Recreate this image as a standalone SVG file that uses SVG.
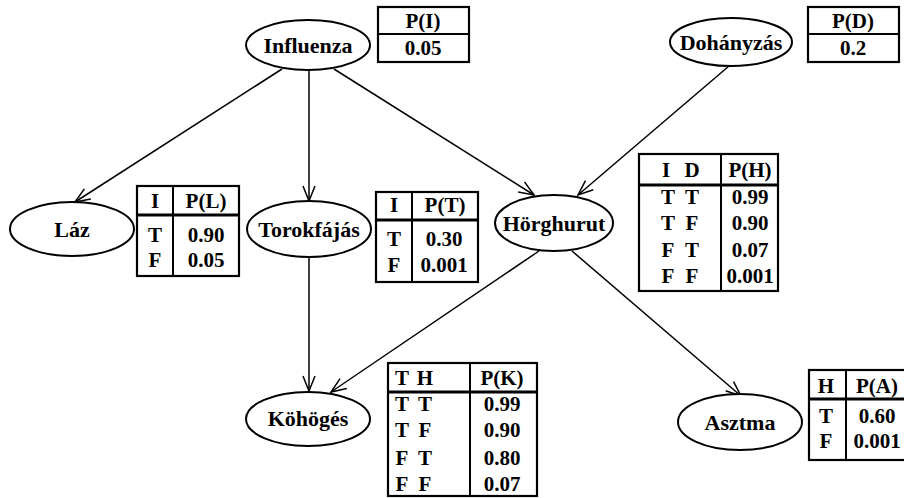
<svg xmlns="http://www.w3.org/2000/svg" width="904" height="498" viewBox="0 0 904 498">
<defs>
<style>
.node ellipse{fill:#fff;stroke:#000;stroke-width:2}
.lbl{font-family:'Liberation Serif','DejaVu Serif',serif;font-weight:700;font-size:22px;text-anchor:middle;fill:#000}
.t{font-family:'Liberation Serif','DejaVu Serif',serif;font-weight:700;font-size:21px;text-anchor:middle;fill:#000}
.box{fill:#fff;stroke:#000;stroke-width:2.2}
.div{stroke:#000;stroke-width:2}
.hd{stroke:#000;stroke-width:3}
.edge{stroke:#000;stroke-width:1.5;fill:none;marker-end:url(#arr)}
</style>
<marker id="arr" viewBox="0 0 17 14" refX="16" refY="7" markerWidth="17" markerHeight="14" markerUnits="userSpaceOnUse" orient="auto">
<path d="M1,1 L16,7 L1,13" fill="none" stroke="#000" stroke-width="1.5"/>
</marker>
</defs>
<rect width="904" height="498" fill="#fff"/>
<g id="connectors">
<line class="edge" x1="282" y1="69" x2="75" y2="202"/>
<line class="edge" x1="309" y1="71" x2="309" y2="201"/>
<line class="edge" x1="334" y1="69" x2="534" y2="195"/>
<line class="edge" x1="729" y1="66" x2="578" y2="195"/>
<line class="edge" x1="539" y1="251" x2="331" y2="392"/>
<line class="edge" x1="572" y1="251" x2="741" y2="396"/>
<line class="edge" x1="309" y1="257" x2="309" y2="391"/>
</g>
<g id="influenza" class="node">
<ellipse cx="308" cy="45" rx="62" ry="25"/>
<text class="lbl" x="308" y="53">Influenza</text>
</g>
<g id="dohanyzas" class="node">
<ellipse cx="731" cy="42" rx="61" ry="24"/>
<text class="lbl" x="731" y="50">Dohányzás</text>
</g>
<g id="laz" class="node">
<ellipse cx="72" cy="229" rx="62" ry="27"/>
<text class="lbl" x="72" y="237">Láz</text>
</g>
<g id="torokfajas" class="node">
<ellipse cx="309" cy="229" rx="62" ry="28"/>
<text class="lbl" x="309" y="237">Torokfájás</text>
</g>
<g id="horghurut" class="node">
<ellipse cx="554" cy="223" rx="59" ry="28"/>
<text class="lbl" x="554" y="231">Hörghurut</text>
</g>
<g id="kohoges" class="node">
<ellipse cx="308" cy="419" rx="62" ry="27"/>
<text class="lbl" x="308" y="426">Köhögés</text>
</g>
<g id="asztma" class="node">
<ellipse cx="740" cy="422" rx="62" ry="28"/>
<text class="lbl" x="740" y="430">Asztma</text>
</g>
<g id="cpt-i">
<rect class="box" x="378" y="7" width="91" height="55"/>
<line class="div" x1="378" y1="34" x2="469" y2="34"/>
<text class="t" x="423" y="28">P(I)</text>
<text class="t" x="423" y="55">0.05</text>
</g>
<g id="cpt-d">
<rect class="box" x="808" y="7" width="91" height="55"/>
<line class="div" x1="808" y1="34" x2="899" y2="34"/>
<text class="t" x="853" y="28">P(D)</text>
<text class="t" x="853" y="55">0.2</text>
</g>
<g id="cpt-l">
<rect class="box" x="137" y="186" width="102" height="90"/>
<line class="div" x1="173" y1="186" x2="173" y2="276"/>
<line class="hd" x1="137" y1="215" x2="239" y2="215"/>
<text class="t" x="155" y="208">I</text>
<text class="t" x="206" y="208">P(L)</text>
<text class="t" x="155" y="242">T</text>
<text class="t" x="206" y="242">0.90</text>
<text class="t" x="155" y="267">F</text>
<text class="t" x="206" y="267">0.05</text>
</g>
<g id="cpt-t">
<rect class="box" x="376" y="192" width="102" height="90"/>
<line class="div" x1="412" y1="192" x2="412" y2="282"/>
<line class="hd" x1="376" y1="220" x2="478" y2="220"/>
<text class="t" x="394" y="212">I</text>
<text class="t" x="445" y="212">P(T)</text>
<text class="t" x="394" y="246">T</text>
<text class="t" x="444" y="246">0.30</text>
<text class="t" x="394" y="272">F</text>
<text class="t" x="444" y="272">0.001</text>
</g>
<g id="cpt-h">
<rect class="box" x="639" y="154" width="139" height="137"/>
<line class="div" x1="721" y1="154" x2="721" y2="291"/>
<line class="hd" x1="639" y1="185" x2="778" y2="185"/>
<text class="t" x="666" y="177">I</text>
<text class="t" x="692" y="177">D</text>
<text class="t" x="750" y="177">P(H)</text>
<text class="t" x="668" y="204">T</text>
<text class="t" x="692" y="204">T</text>
<text class="t" x="750" y="204">0.99</text>
<text class="t" x="668" y="230">T</text>
<text class="t" x="692" y="230">F</text>
<text class="t" x="750" y="230">0.90</text>
<text class="t" x="668" y="257">F</text>
<text class="t" x="692" y="257">T</text>
<text class="t" x="750" y="257">0.07</text>
<text class="t" x="668" y="283">F</text>
<text class="t" x="692" y="283">F</text>
<text class="t" x="750" y="283">0.001</text>
</g>
<g id="cpt-k">
<rect class="box" x="388" y="363" width="149" height="133"/>
<line class="div" x1="470" y1="363" x2="470" y2="496"/>
<line class="hd" x1="388" y1="392" x2="537" y2="392"/>
<text class="t" x="402" y="385">T</text>
<text class="t" x="425" y="385">H</text>
<text class="t" x="502" y="385">P(K)</text>
<text class="t" x="402" y="411">T</text>
<text class="t" x="425" y="411">T</text>
<text class="t" x="502" y="411">0.99</text>
<text class="t" x="402" y="437">T</text>
<text class="t" x="425" y="437">F</text>
<text class="t" x="502" y="437">0.90</text>
<text class="t" x="402" y="465">F</text>
<text class="t" x="425" y="465">T</text>
<text class="t" x="502" y="465">0.80</text>
<text class="t" x="402" y="491">F</text>
<text class="t" x="425" y="491">F</text>
<text class="t" x="502" y="491">0.07</text>
</g>
<g id="cpt-a">
<rect class="box" x="809" y="370" width="100" height="90"/>
<line class="div" x1="846" y1="370" x2="846" y2="460"/>
<line class="hd" x1="809" y1="399" x2="909" y2="399"/>
<text class="t" x="826" y="393">H</text>
<text class="t" x="877" y="393">P(A)</text>
<text class="t" x="826" y="423">T</text>
<text class="t" x="877" y="423">0.60</text>
<text class="t" x="826" y="448">F</text>
<text class="t" x="877" y="448">0.001</text>
</g>
</svg>
